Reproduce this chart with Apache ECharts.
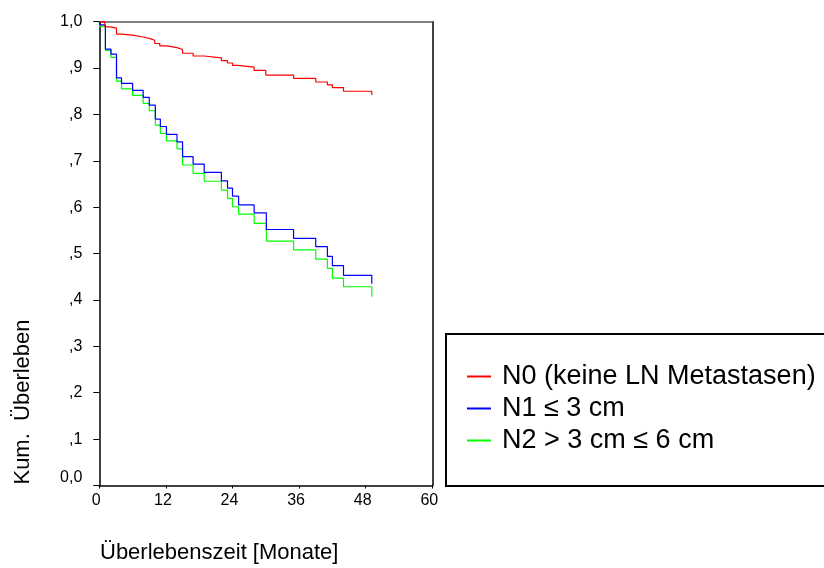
<!DOCTYPE html>
<html>
<head>
<meta charset="utf-8">
<script src="https://cdn.jsdelivr.net/npm/echarts@6/dist/echarts.min.js"></script>
<style>
html,body{margin:0;padding:0;background:#fff;}
#chart{width:824px;height:568px;}
</style>
</head>
<body>
<div id="chart"></div>
<script>
// Kaplan-Meier step data: [month, cumulative survival]
const seriesNames = ['N0 (keine LN Metastasen)', 'N1 \u2264 3 cm', 'N2 > 3 cm \u2264 6 cm'];
const seriesColors = ['#ff0000', '#0000ff', '#00ff00'];

const n0Data = [
  [0,1.0],[1.0,0.989],[2.0,0.986],[3.1,0.973],[4.0,0.971],[6.0,0.967],[7.9,0.964],[9.0,0.960],
  [10.0,0.953],[10.9,0.948],[12.1,0.944],[14.0,0.940],[15.0,0.932],[16.9,0.926],[18.9,0.922],
  [22.0,0.916],[23.1,0.911],[24.0,0.906],[25.0,0.902],[27.9,0.895],[30.0,0.885],[35.0,0.878],
  [39.0,0.870],[41.1,0.864],[42.0,0.858],[44.0,0.850],[49.1,0.842]
];
const n1Data = [
  [0,1.0],[0.1,0.993],[1.1,0.941],[2.1,0.930],[3.1,0.879],[4.0,0.867],[6.0,0.852],[7.9,0.837],
  [9.0,0.820],[10.1,0.790],[11.0,0.774],[12.1,0.757],[14.0,0.741],[15.0,0.709],[16.9,0.693],
  [18.9,0.675],[22.0,0.657],[23.1,0.641],[24.0,0.624],[25.1,0.605],[27.9,0.588],[30.1,0.552],
  [35.0,0.533],[39.0,0.515],[41.1,0.494],[42.0,0.474],[44.0,0.453],[49.1,0.435]
];
const n2Data = [
  [0,1.0],[0.1,0.990],[1.1,0.938],[2.1,0.923],[3.1,0.872],[4.0,0.855],[6.0,0.841],[7.9,0.824],
  [9.0,0.808],[10.1,0.777],[11.0,0.759],[12.1,0.743],[14.0,0.726],[15.0,0.691],[16.9,0.673],
  [18.9,0.656],[22.0,0.637],[23.1,0.619],[24.0,0.601],[25.1,0.585],[27.9,0.565],[30.1,0.527],
  [35.0,0.508],[39.0,0.488],[41.1,0.468],[42.0,0.447],[44.0,0.4285],[49.1,0.407]
];

const xTicks = [0, 12, 24, 36, 48, 60];
const yTickLabels = ['0,0', ',1', ',2', ',3', ',4', ',5', ',6', ',7', ',8', ',9', '1,0'];
const xTitle = 'Überlebenszeit [Monate]';
const yTitle = 'Kum.  Überleben';

const FONT = '"Liberation Sans", Arial, sans-serif';
const chart = echarts.init(document.getElementById('chart'), null, {renderer: 'canvas'});

const allData = [n0Data, n1Data, n2Data];
const series = allData.map((d, i) => ({
  name: seriesNames[i],
  type: 'line',
  step: 'end',
  data: d,
  showSymbol: false,
  symbol: 'none',
  lineStyle: {color: seriesColors[i], width: 1.2},
  itemStyle: {color: seriesColors[i]},
  z: 10 - i,
  xAxisIndex: 0,
  yAxisIndex: 0
}));

chart.setOption({
  animation: false,
  backgroundColor: '#ffffff',
  grid: {left: 99.3, right: 391.7, top: 21.7, bottom: 82.5, containLabel: false},
  title: {
    text: xTitle,
    left: 100,
    top: 542,
    padding: 0,
    textStyle: {fontFamily: FONT, fontSize: 22, fontWeight: 'normal', color: '#000'}
  },
  graphic: [
    {
      type: 'rect',
      shape: {x: 446, y: 334, width: 400, height: 152},
      style: {fill: '#fff', stroke: '#000', lineWidth: 2},
      z: 0
    },
    {
      type: 'text',
      x: 22.5,
      y: 402,
      rotation: Math.PI / 2,
      style: {
        text: yTitle,
        fill: '#000',
        font: '22px ' + FONT,
        textAlign: 'center',
        textVerticalAlign: 'middle'
      }
    }
  ],
  legend: {
    data: seriesNames,
    orient: 'vertical',
    left: 462,
    top: 358,
    icon: 'rect',
    itemWidth: 24,
    itemHeight: 2,
    itemGap: 5,
    selectedMode: false,
    textStyle: {fontFamily: FONT, fontSize: 27, color: '#000', lineHeight: 26, padding: [0, 0, 0, 6]}
  },
  xAxis: [
    {
      type: 'value',
      min: 0, max: 60, interval: 12,
      axisLine: {show: true, lineStyle: {color: '#000', width: 1.5}},
      axisTick: {show: true, length: 3, lineStyle: {color: '#000'}},
      splitLine: {show: false},
      axisLabel: {
        margin: 7,
        fontFamily: FONT, fontSize: 16, color: '#000',
        formatter: v => xTicks.includes(v) ? '{a|' + v + '}' : '',
        rich: {a: {fontFamily: FONT, fontSize: 16, color: '#000', padding: [0, 6, 0, 0]}}
      }
    },
    {
      type: 'value',
      position: 'top',
      min: 0, max: 60, interval: 12,
      axisLine: {show: true, onZero: false, lineStyle: {color: '#555', width: 1.5}},
      axisTick: {show: false},
      axisLabel: {show: false},
      splitLine: {show: false}
    }
  ],
  yAxis: [
    {
      type: 'value',
      min: 0, max: 1, interval: 0.1,
      axisLine: {show: true, lineStyle: {color: '#000', width: 1.5}},
      axisTick: {show: true, length: 6, lineStyle: {color: '#000'}},
      splitLine: {show: false},
      axisLabel: {
        margin: 17,
        fontFamily: FONT, fontSize: 16, color: '#000',
        formatter: v => {
          const idx = Math.round(v * 10);
          if (idx === 0) return '{z|' + yTickLabels[0] + '}';
          return yTickLabels[idx];
        },
        rich: {z: {fontFamily: FONT, fontSize: 16, color: '#000', padding: [0, 0, 16, 0]}}
      }
    },
    {
      type: 'value',
      position: 'right',
      min: 0, max: 1, interval: 0.1,
      axisLine: {show: true, onZero: false, lineStyle: {color: '#000', width: 1.5}},
      axisTick: {show: false},
      axisLabel: {show: false},
      splitLine: {show: false}
    }
  ],
  series: series
});
</script>
</body>
</html>
